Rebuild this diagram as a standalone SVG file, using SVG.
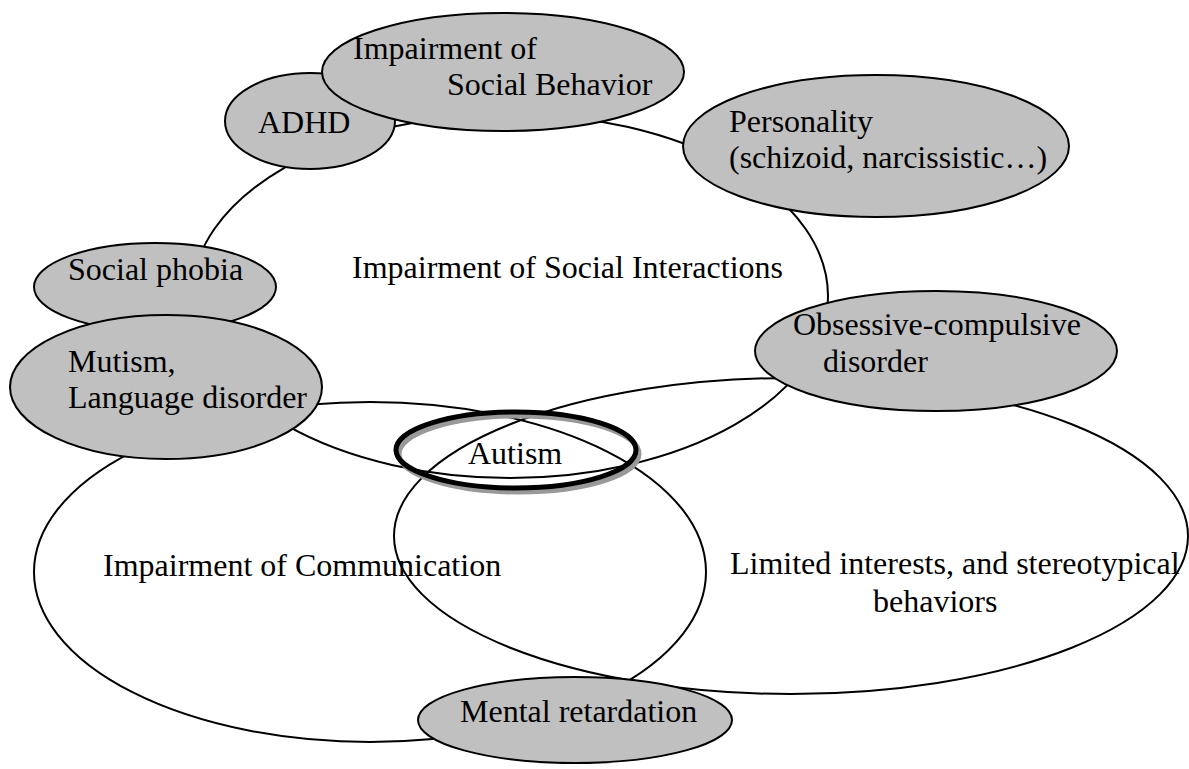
<svg xmlns="http://www.w3.org/2000/svg" width="1189" height="769" viewBox="0 0 1189 769">
<style>
text{font-family:"Liberation Serif","Times New Roman",serif;font-size:32px;fill:#000}
.region{fill:none;stroke:#000;stroke-width:2}
.node{fill:#c0c0c0;stroke:#000;stroke-width:2}
</style>
<rect width="1189" height="769" fill="#fff"/>
<g id="region-social">
<ellipse class="region" cx="510" cy="296" rx="318" ry="182"/>
<text x="352" y="278">Impairment of Social Interactions</text>
</g>
<g id="region-communication">
<ellipse class="region" cx="370" cy="572" rx="336" ry="170"/>
<text x="103" y="576">Impairment of Communication</text>
</g>
<g id="region-interests">
<ellipse class="region" cx="791" cy="536" rx="397" ry="158"/>
<text x="730" y="574">Limited interests, and stereotypical</text>
<text x="873" y="612">behaviors</text>
</g>
<g id="adhd">
<ellipse class="node" cx="310" cy="121" rx="85" ry="48"/>
<text x="258" y="133">ADHD</text>
</g>
<g id="social-behavior">
<ellipse class="node" cx="503" cy="72" rx="181" ry="59"/>
<text x="353" y="59">Impairment of</text>
<text x="447" y="95">Social Behavior</text>
</g>
<g id="personality">
<ellipse class="node" cx="876" cy="146" rx="193" ry="71"/>
<text x="729" y="132">Personality</text>
<text x="729" y="168">(schizoid, narcissistic…)</text>
</g>
<g id="social-phobia">
<ellipse class="node" cx="155" cy="287" rx="121" ry="44"/>
<text x="68" y="280">Social phobia</text>
</g>
<g id="mutism">
<ellipse class="node" cx="166" cy="387" rx="156" ry="72"/>
<text x="68" y="372">Mutism,</text>
<text x="68" y="408">Language disorder</text>
</g>
<g id="ocd">
<ellipse class="node" cx="936" cy="351" rx="181" ry="60"/>
<text x="793" y="335">Obsessive-compulsive</text>
<text x="823" y="372">disorder</text>
</g>
<g id="mental-retardation">
<ellipse class="node" cx="575" cy="720" rx="157" ry="43"/>
<text x="460" y="722">Mental retardation</text>
</g>
<g id="autism">
<ellipse cx="519" cy="454" rx="120" ry="38" fill="none" stroke="#999" stroke-width="5"/>
<ellipse cx="516" cy="450" rx="120" ry="38" fill="none" stroke="#000" stroke-width="5"/>
<text x="468" y="464">Autism</text>
</g>
<g id="connectors"/>
</svg>
